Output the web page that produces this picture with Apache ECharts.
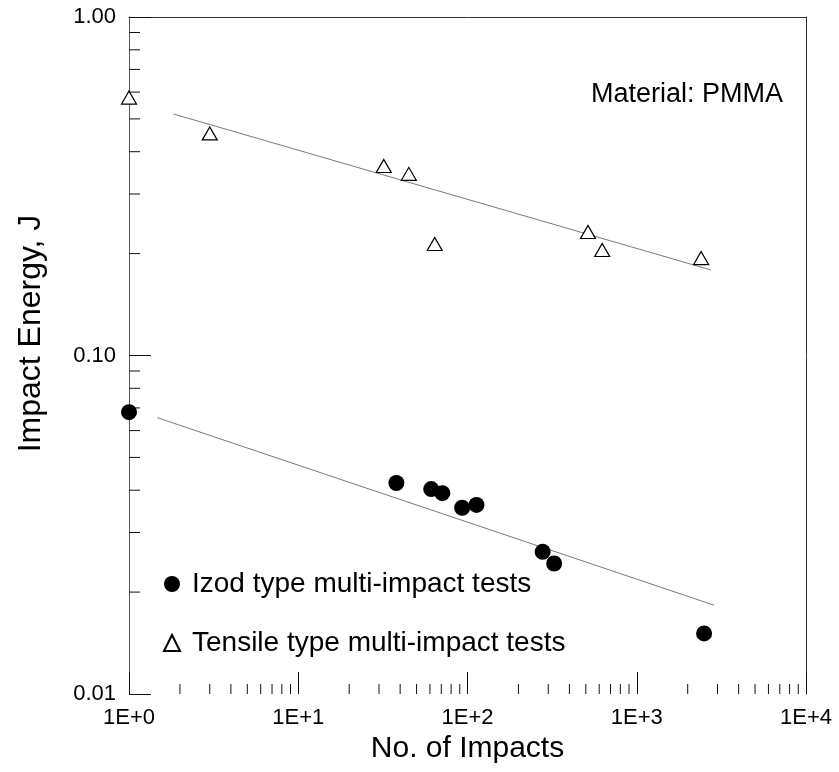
<!DOCTYPE html>
<html>
<head>
<meta charset="utf-8">
<script src="https://cdn.jsdelivr.net/npm/echarts@6/dist/echarts.min.js"></script>
<style>html,body{margin:0;padding:0;background:#fff}#c{width:839px;height:772px}</style>
</head>
<body>
<div id="c"></div>
<script>
// ---- data ----
const izodX = [1, 38, 61, 71, 93, 113, 278, 325, 2500];
const izodY = [0.068, 0.042, 0.0403, 0.0392, 0.0355, 0.0362, 0.0263, 0.0243, 0.0151];
const tensileX = [1, 3, 32, 45, 64, 515, 625, 2400];
const tensileY = [0.578, 0.453, 0.363, 0.344, 0.2135, 0.2316, 0.205, 0.194];
// fitted power-law lines (end points)
const izodFitX = [1.47, 2860];
const izodFitY = [0.0655, 0.0183];
const tensileFitX = [1.83, 2735];
const tensileFitY = [0.517, 0.179];
// tick labels
const xTickLabels = ['1E+0', '1E+1', '1E+2', '1E+3', '1E+4'];
const yTickLabels = ['0.01', '0.10', '1.00'];
const xMinorTicks = [2,3,4,5,6,7,8,9, 20,30,40,50,60,70,80,90, 200,300,400,500,600,700,800,900, 2000,3000,4000,5000,6000,7000,8000,9000];
const yMinorTicks = [0.02,0.03,0.04,0.05,0.06,0.07,0.08,0.09, 0.2,0.3,0.4,0.5,0.6,0.7,0.8,0.9];
const seriesNames = ['Izod type multi-impact tests', 'Tensile type multi-impact tests'];
const annotation = 'Material: PMMA';
const xTitle = 'No. of Impacts';
const yTitle = 'Impact Energy, J';

const FONT = '"Liberation Sans", Arial, sans-serif';
const zip = (a, b) => a.map((v, i) => [v, b[i]]);

const chart = echarts.init(document.getElementById('c'), null, {renderer: 'canvas'});
const option = {
  animation: false,
  backgroundColor: '#fff',
  grid: {left: 129, top: 17, right: 33, bottom: 78, containLabel: false},
  xAxis: [{
    type: 'log', min: 1, max: 10000, logBase: 10,
    name: xTitle, nameLocation: 'middle', nameGap: 37,
    nameTextStyle: {fontFamily: FONT, fontSize: 30, color: '#000'},
    axisLine: {show: false},
    axisTick: {show: true, inside: true, length: 22, lineStyle: {color: '#111', width: 1}},
    minorTick: {show: false},
    splitLine: {show: false},
    axisLabel: {fontFamily: FONT, fontSize: 22, color: '#000', margin: 13,
      formatter: v => xTickLabels[Math.round(Math.log10(v))]}
  }, {
    type: 'log', min: 1, max: 10000, position: 'top',
    axisLine: {show: true, onZero: false, lineStyle: {color: '#333', width: 1}},
    axisTick: {show: false}, axisLabel: {show: false}, splitLine: {show: false}
  }],
  yAxis: [{
    type: 'log', min: 0.01, max: 1, logBase: 10,
    name: yTitle, nameLocation: 'middle', nameGap: 82,
    nameTextStyle: {fontFamily: FONT, fontSize: 32, color: '#000', padding: [0, 0, 0, 44]},
    axisLine: {show: true, onZero: false, lineStyle: {color: '#555', width: 1}},
    axisTick: {show: true, inside: true, length: 22, lineStyle: {color: '#111', width: 1}},
    splitLine: {show: false},
    axisLabel: {fontFamily: FONT, fontSize: 22, color: '#000', margin: 13,
      formatter: v => yTickLabels[Math.round(Math.log10(v)) + 2]}
  }, {
    type: 'log', min: 0.01, max: 1, position: 'right',
    axisLine: {show: true, onZero: false, lineStyle: {color: '#333', width: 1}},
    axisTick: {show: false}, axisLabel: {show: false}, splitLine: {show: false}
  }],
  legend: {
    orient: 'vertical', left: 158, top: 565, itemGap: 31,
    itemWidth: 16, itemHeight: 16,
    textStyle: {fontFamily: FONT, fontSize: 28, color: '#000', padding: [0, 0, 0, 7]},
    data: seriesNames
  },
  graphic: [{
    type: 'text', right: 56, top: 81,
    style: {text: annotation, font: '27px ' + FONT, fill: '#000'}
  }],
  series: [
    {
      type: 'line', data: zip(izodFitX, izodFitY), symbol: 'none', silent: true,
      lineStyle: {color: '#7a7a7a', width: 1}, z: 1
    },
    {
      type: 'line', data: zip(tensileFitX, tensileFitY), symbol: 'none', silent: true,
      lineStyle: {color: '#7a7a7a', width: 1}, z: 1
    },
    {
      name: seriesNames[0], type: 'scatter', data: zip(izodX, izodY), clip: false,
      symbol: 'circle', symbolSize: 16, itemStyle: {color: '#000', opacity: 1}, z: 3
    },
    {
      name: seriesNames[1], type: 'scatter', data: zip(tensileX, tensileY), clip: false,
      symbol: 'triangle', symbolSize: [15, 13],
      itemStyle: {color: '#fff', opacity: 1, borderColor: '#000', borderWidth: 1.2}, z: 3
    },
    {
      type: 'custom', silent: true, clip: false, z: 2,
      data: xMinorTicks.map(v => [v, 0.01]),
      renderItem: (params, api) => {
        const p = api.coord([api.value(0), api.value(1)]);
        return {type: 'line', shape: {x1: p[0], y1: p[1], x2: p[0], y2: p[1] - 10},
          style: {stroke: '#111', lineWidth: 1}};
      }
    },
    {
      type: 'custom', silent: true, clip: false, z: 2,
      data: yMinorTicks.map(v => [1, v]),
      renderItem: (params, api) => {
        const p = api.coord([api.value(0), api.value(1)]);
        return {type: 'line', shape: {x1: p[0], y1: p[1], x2: p[0] + 11, y2: p[1]},
          style: {stroke: '#111', lineWidth: 1}};
      }
    }
  ]
};
chart.setOption(option);
</script>
</body>
</html>
